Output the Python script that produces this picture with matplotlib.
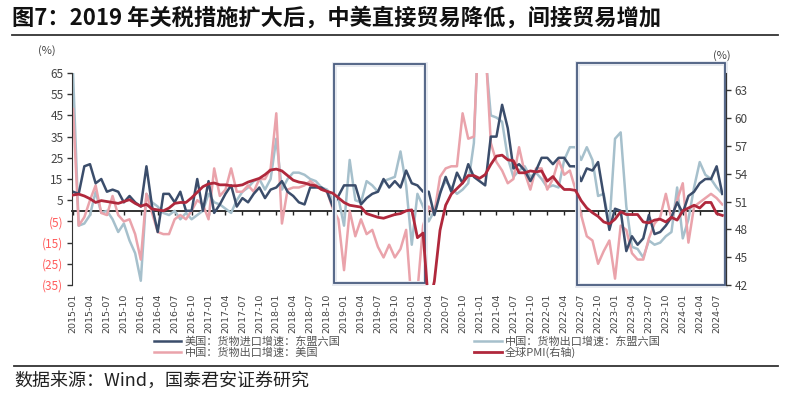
import matplotlib
matplotlib.use('Agg')
import matplotlib.pyplot as plt
import matplotlib.transforms as mtrans
import matplotlib.patheffects as pe
from matplotlib.patches import Rectangle
from matplotlib.lines import Line2D
import numpy as np
import pandas as pd

plt.rcParams['font.family'] = ['Noto Sans CJK SC', 'DejaVu Sans']

months = [p.strftime('%Y-%m') for p in pd.period_range('2015-01', '2024-08', freq='M')]

us_imp_asean = [9, 8, 21, 22, 13, 15, 9, 10, 9, 4, 7, 4,
                2, 21, 2, -10, 8, 8, 4, 9, 0, 0, 15, 0,
                14, -1, 3, 8, 12, 2, 6, 4, 8, 11, 6, 10,
                11, 14, 9, 7, 4, 3, 11, 11, 11, 9, 2, 7,
                12, 12, 12, 3, 6, 8, 9, 15, 11, 14, 11, 19,
                13, 12, 9, 9, -2, 8, 16, 9, 18, 13, 22, 16,
                14, 12, 35, 35, 50, 39, 20, 22, 19, 14, 19, 25,
                25, 22, 25, 25, 21, 21, 14, 20, 19, 23, 7, -9,
                1, 0, -19, -12, -16, -13, -2, -11, -10, -7, -3, 4,
                -1, 7, 9, 13, 15, 15, 21, 8]

cn_exp_asean = [65, -7, -6, -2, 9, -1, 0, -4, -10, -6, -14, -20,
                -33, 8, 4, 2, -1, -2, 0, -4, -1, -4, -2, 0,
                8, 4, 3, 1, -1, 5, 9, 11, 14, 15, 10, 15,
                34, 10, 15, 18, 18, 17, 15, 14, 11, 10, 5, 6,
                -7, 24, 5, 4, 14, 12, 9, 14, 15, 16, 28, 12,
                -16, 8, 2, -5, 0, 9, 14, 11, 8, 10, 13, 32,
                100, 75, 45, 44, 42, 25, 16, 19, 21, 16, 18, 15,
                11, 12, 11, 24, 30, 30, 24, 30, 24, 7, 8, -7,
                34, 37, 2, -17, -18, -22, -14, -16, -15, -12, -10, 11,
                -13, -4, 11, 23, 17, 15, 11, 8]

cn_exp_us = [48, -7, -3, 5, 12, -1, -2, 7, -2, -5, -4, -11,
             -23, 8, -1, -10, -11, -11, -4, -2, -4, 0, 5, 3,
             -4, 20, 7, 10, 20, 9, 9, 12, 9, 15, 15, 20,
             46, -6, 10, 11, 11, 12, 14, 12, 10, 9, 1, -4,
             -28, 0, -12, -4, -11, -9, -17, -22, -16, -22, -18, -9,
             -45, -38, -7, 2, -1, 16, 20, 21, 21, 46, 34, 35,
             95, 80, 32, 23, 19, 13, 15, 30, 18, 10, 20, 20,
             10, 15, 24, 17, 19, 10, -2, -12, -14, -25, -19, -14,
             -32, -7, -9, -20, -23, -23, -13, -6, -3, 8, -4, 5,
             13, -15, 2, 4, 6, 8, 6, 3]

global_pmi = [51.7, 51.8, 51.6, 51.3, 50.9, 51.1, 51.0, 50.9, 50.8, 51.0, 51.2, 50.8,
              50.5, 50.7, 50.2, 50.1, 50.0, 50.3, 50.8, 50.9, 50.9, 51.4, 52.0, 52.6,
              52.9, 53.0, 52.8, 52.8, 52.7, 52.7, 52.8, 53.1, 53.3, 53.5, 53.9, 54.4,
              54.5, 54.3, 53.8, 53.3, 53.1, 53.0, 52.8, 52.7, 52.3, 52.1, 51.9, 51.4,
              50.9, 50.6, 50.5, 50.4, 49.7, 49.5, 49.3, 49.2, 49.4, 49.6, 49.7, 50.0,
              50.1, 47.1, 47.6, 39.6, 42.4, 47.9, 50.6, 51.8, 52.4, 53.0, 53.8, 53.8,
              53.5, 53.9, 55.0, 55.9, 56.0, 55.5, 55.4, 54.1, 54.1, 54.3, 54.2, 54.3,
              53.2, 53.7, 52.9, 52.3, 52.3, 52.2, 51.1, 50.3, 49.8, 49.4, 48.8, 48.6,
              49.1, 49.9, 49.6, 49.6, 49.6, 48.8, 48.7, 49.0, 49.1, 48.8, 49.3, 49.0,
              50.0, 50.3, 50.6, 50.3, 50.9, 50.9, 49.7, 49.5]

series_labels = ['美国：货物进口增速：东盟六国', '中国：货物出口增速：东盟六国',
                 '中国：货物出口增速：美国', '全球PMI(右轴)']
left_ticks = [-35, -25, -15, -5, 5, 15, 25, 35, 45, 55, 65]
right_ticks = [42, 45, 48, 51, 54, 57, 60, 63]
highlight_periods = [('2018-11', '2020-03'), ('2022-06', '2024-08')]

title = '图7：2019 年关税措施扩大后，中美直接贸易降低，间接贸易增加'
source = '数据来源：Wind，国泰君安证券研究'

c_navy = '#3b4d6b'
c_light = '#a6c0cc'
c_pink = '#eaa3ab'
c_red = '#b0283c'

x = np.arange(len(months))

fig = plt.figure(figsize=(8, 3.99), dpi=100)
ax = fig.add_axes([0.0906, 0.2857, 0.8165, 0.5313])
ax.set_xlim(-0.1, 115.6)
ax.set_ylim(-35, 65)
ax2 = ax.twinx()
ax2.set_ylim(42, 42 + 8 / 0.35)

l2, = ax.plot(x, cn_exp_asean, color=c_light, lw=1.8)
l3, = ax.plot(x, cn_exp_us, color=c_pink, lw=1.8)
l1, = ax.plot(x, us_imp_asean, color=c_navy, lw=1.8)
l4, = ax2.plot(x, global_pmi, color=c_red, lw=2.0)

# highlight boxes
tr = mtrans.blended_transform_factory(ax.transData, ax.transAxes)
box_y = [(0.01, 1.032), (0.0, 1.049)]
for (a, b), (y0, h) in zip(highlight_periods, box_y):
    xa = months.index(a) + 0.2
    xb = months.index(b) + 0.4
    r = Rectangle((xa, y0), xb - xa, h, transform=tr, fill=False,
                  ec='#4a5d80', lw=1.3, clip_on=False, zorder=5)
    r.set_path_effects([pe.Stroke(linewidth=3.5, foreground='#e6e9ef'), pe.Normal()])
    ax.add_patch(r)

# spines
for s in ['top', 'bottom', 'right']:
    ax.spines[s].set_visible(False)
for s in ['top', 'bottom', 'left']:
    ax2.spines[s].set_visible(False)
ax.spines['left'].set_color('#333333')
ax2.spines['right'].set_color('#333333')

ax.set_yticks(left_ticks)
ax.set_yticklabels([f'({abs(v)})' if v < 0 else f'{v}' for v in left_ticks])
for lab, v in zip(ax.get_yticklabels(), left_ticks):
    lab.set_color('#ff5b5b' if v < 0 else '#444444')
ax.tick_params(axis='y', length=3.5, width=1, color='#333333', labelsize=8.5, pad=3)

ax2.set_yticks(right_ticks)
ax2.tick_params(axis='y', length=3.5, width=1, color='#333333', labelsize=8.5,
                labelcolor='#444444', pad=3)

ax.set_xticks(x[::3])
ax.set_xticklabels(months[::3], rotation=90, fontsize=6.8, color='#444444',
                   family=['DejaVu Sans'])
ax.tick_params(axis='x', length=0, pad=6)

sec = ax.secondary_xaxis(0.35)
sec.set_xticks(x[::3])
sec.set_xticklabels([])
sec.tick_params(axis='x', length=3, width=1, direction='out', color='#222222')
sec.spines['bottom'].set_color('#222222')
sec.spines['bottom'].set_linewidth(1.3)

fig.text(47 / 800, 1 - 51 / 399, '(%)', fontsize=8, color='#444444', ha='center', va='center')
fig.text(722 / 800, 1 - 56 / 399, '(%)', fontsize=8, color='#444444', ha='center', va='center')

leg = fig.legend([l1, l3, l2, l4], [series_labels[0], series_labels[2], series_labels[1], series_labels[3]],
                 ncol=2, loc='upper left', bbox_to_anchor=(0.192, 0.158),
                 frameon=False, fontsize=8, handlelength=2.5, handletextpad=0.3,
                 columnspacing=12, labelspacing=0.05, borderpad=0, borderaxespad=0)
for t in leg.get_texts():
    t.set_color('#555555')

fig.text(0.015, 0.955, title, fontsize=16, fontweight='bold', va='center', ha='left', color='#111111')
fig.add_artist(Line2D([0.015, 0.972], [0.912, 0.912], transform=fig.transFigure, color='#333333', lw=1.3))
fig.add_artist(Line2D([0.018, 0.972], [0.083, 0.083], transform=fig.transFigure, color='#333333', lw=1.3))
fig.text(0.018, 0.045, source, fontsize=13, va='center', ha='left', color='#222222')

fig.savefig('out.png', dpi=100)
